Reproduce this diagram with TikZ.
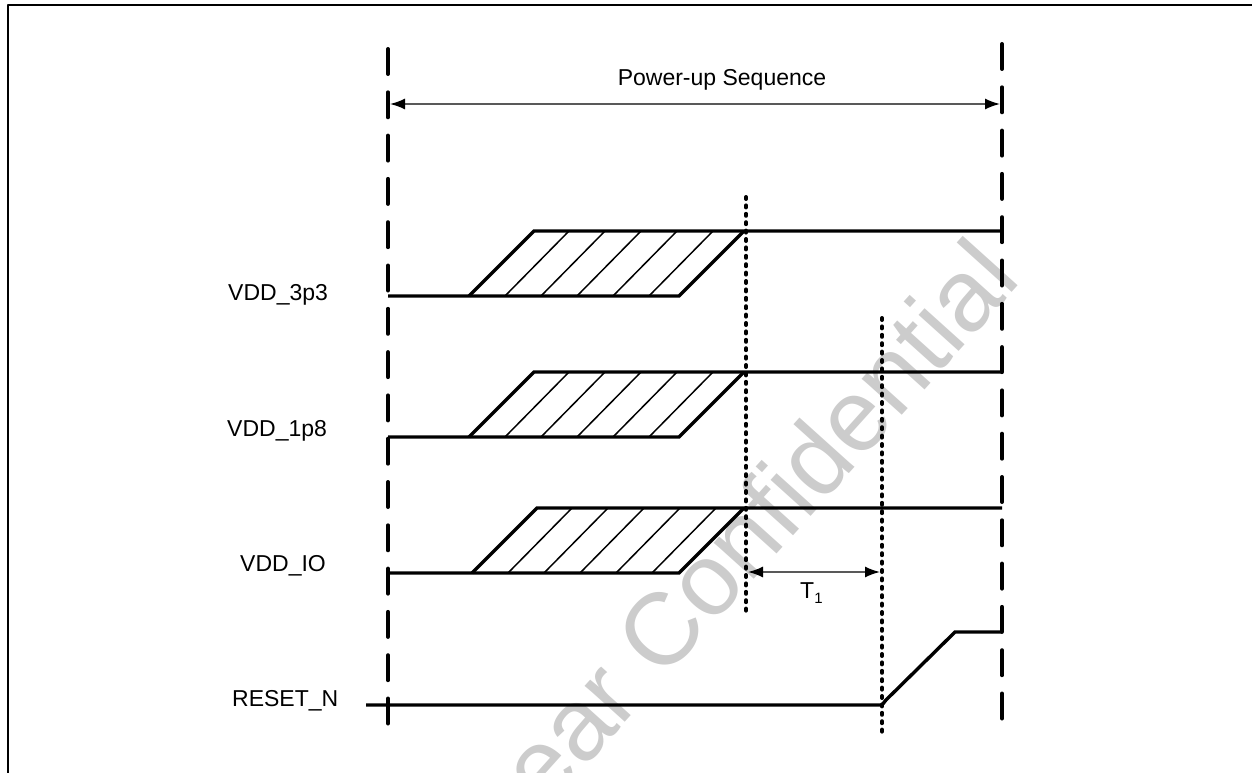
\documentclass[tikz,border=0pt]{standalone}
\usepackage{fontspec}
\setmainfont{Liberation Sans}
\usetikzlibrary{arrows.meta}
\tikzset{
	sig/.style={line width=3.4pt, line join=miter},
	hatch/.style={line width=1.5pt},
	bound/.style={line width=4pt, line cap=round, dash pattern=on 25pt off 18.3pt},
	dotline/.style={line width=4pt, line cap=round, dash pattern=on 2pt off 6.4pt},
	dimarrow/.style={draw=black!65, line width=1.6pt,
		{Latex[color=black,length=15pt,width=11pt]}-{Latex[color=black,length=15pt,width=11pt]}},
	lbl/.style={font=\fontsize{23}{27}\selectfont, inner sep=0pt, anchor=base west},
}
\begin{document}
\begin{tikzpicture}[x=1pt, y=-1pt, line join=round]
	\useasboundingbox (0,0) rectangle (1252,773);
	% watermark
	\node[text=black!20, rotate=48, inner sep=0pt, font=\fontsize{102}{110}\selectfont] (wm) at (757,522) {ear Confidential};
	\draw[line width=2.5pt] (8,773) -- (8,5) -- (1252,5);
	\path
	(388,49) coordinate (L1)
	(388,727) coordinate (L2)
	(1002,44) coordinate (R1)
	(1002,722) coordinate (R2)
	(746,197) coordinate (D1)
	(746,612) coordinate (D2)
	(882,318) coordinate (E1)
	(882,732) coordinate (E2)
	;
	\draw[bound] (L1) -- (L2);
	\draw[bound] (R1) -- (R2);
	\draw[dotline] (D1) -- (D2);
	\draw[dotline] (E1) -- (E2);
	% power-up span
	\path (390,104) coordinate (P1) (1000,104) coordinate (P2);
	\draw[dimarrow] (P1) -- (P2);
	\node[font=\fontsize{23}{27}\selectfont, inner sep=0pt, anchor=base] (seq) at (722,86) {Power-up Sequence};
	% supply rails
	\foreach \nm/\lo/\xs in {3p3/296/469, 1p8/437/469, IO/573/472}{
		\path
		(388,\lo) coordinate (\nm-a)
		(\xs,\lo) coordinate (\nm-bl)
		({\xs+65},{\lo-65}) coordinate (\nm-tl)
		(679,\lo) coordinate (\nm-br)
		(744,{\lo-65}) coordinate (\nm-tr)
		(1002,{\lo-65}) coordinate (\nm-e)
		;
		\draw[sig] (\nm-a) -- (\nm-br) -- (\nm-tr);
		\draw[sig] (\nm-bl) -- (\nm-tl) -- (\nm-e);
		\foreach \k in {1,...,5}
		\draw[hatch] ({\xs+36*\k},\lo) -- ++(64,-65);
	}
	\node[lbl] (v33) at (228,300) {VDD\_3p3};
	\node[lbl] (v18) at (227,436) {VDD\_1p8};
	\node[lbl] (vio) at (240,571) {VDD\_IO};
	% reset
	\path
	(366,705) coordinate (N1)
	(882,705) coordinate (N2)
	(886,700) coordinate (N3)
	(955,632) coordinate (N4)
	(1002,632) coordinate (N5)
	;
	\draw[sig] (N1) -- (N2) -- (N3) -- (N4) -- (N5);
	\node[lbl] (rst) at (232,706) {RESET\_N};
	% delay T1
	\path (748,572) coordinate (T1a) (880,572) coordinate (T1b);
	\draw[dimarrow] (T1a) -- (T1b);
	\node[lbl] (t1) at (800,598) {T\raisebox{-5pt}{\fontsize{15}{17}\selectfont 1}};
\end{tikzpicture}
\end{document}
